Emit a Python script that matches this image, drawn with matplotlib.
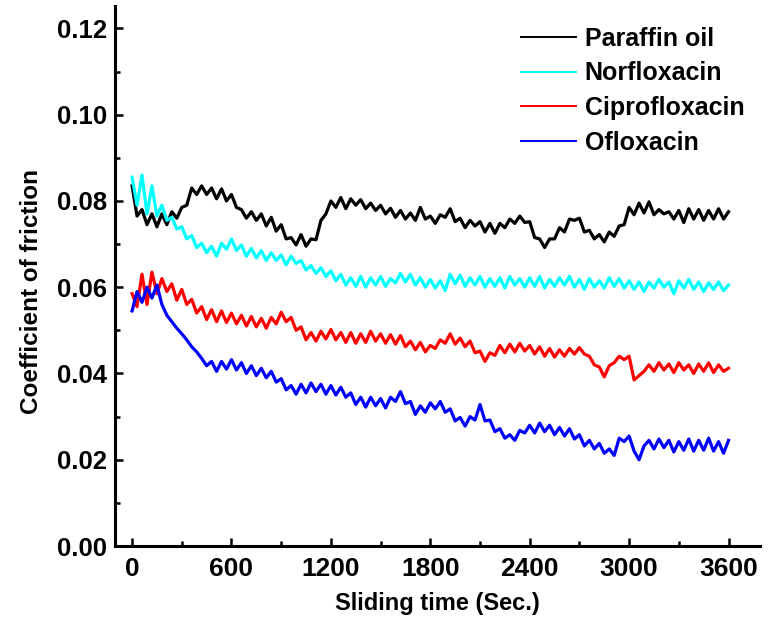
import numpy as np
import matplotlib
matplotlib.use('Agg')
import matplotlib.pyplot as plt
from matplotlib.ticker import MultipleLocator

plt.rcParams['font.family'] = ['Liberation Sans', 'DejaVu Sans']
plt.rcParams['font.weight'] = 'bold'

# sliding time, one reading every 30 s
time = np.arange(0, 3601, 30)

paraffin = [0.0835, 0.0765, 0.0780, 0.0745, 0.0770, 0.0740, 0.0770, 0.0745, 0.0775, 0.0760,
            0.0785, 0.0790, 0.0830, 0.0815, 0.0835, 0.0815, 0.0830, 0.0805, 0.0828, 0.0800,
            0.0815, 0.0785, 0.0780, 0.0760, 0.0775, 0.0755, 0.0770, 0.0742, 0.0762, 0.0730,
            0.0745, 0.0712, 0.0715, 0.0698, 0.0722, 0.0695, 0.0712, 0.0710, 0.0755, 0.0770,
            0.0800, 0.0785, 0.0808, 0.0782, 0.0805, 0.0790, 0.0803, 0.0782, 0.0795, 0.0778,
            0.0790, 0.0770, 0.0783, 0.0762, 0.0778, 0.0758, 0.0772, 0.0755, 0.0785, 0.0758,
            0.0765, 0.0748, 0.0768, 0.0762, 0.0782, 0.0752, 0.0760, 0.0738, 0.0755, 0.0742,
            0.0752, 0.0728, 0.0748, 0.0725, 0.0748, 0.0738, 0.0758, 0.0748, 0.0765, 0.0750,
            0.0752, 0.0715, 0.0712, 0.0692, 0.0712, 0.0712, 0.0738, 0.0728, 0.0758, 0.0755,
            0.0760, 0.0728, 0.0732, 0.0712, 0.0722, 0.0705, 0.0728, 0.0718, 0.0742, 0.0745,
            0.0785, 0.0768, 0.0795, 0.0772, 0.0798, 0.0768, 0.0780, 0.0770, 0.0775, 0.0758,
            0.0778, 0.0750, 0.0782, 0.0758, 0.0780, 0.0755, 0.0778, 0.0758, 0.0782, 0.0758,
            0.0775]

norflox = [0.0855, 0.0790, 0.0860, 0.0770, 0.0835, 0.0765, 0.0790, 0.0755, 0.0762, 0.0735,
           0.0740, 0.0712, 0.0720, 0.0692, 0.0702, 0.0680, 0.0695, 0.0672, 0.0702, 0.0688,
           0.0712, 0.0685, 0.0698, 0.0672, 0.0690, 0.0668, 0.0685, 0.0662, 0.0680, 0.0662,
           0.0675, 0.0652, 0.0672, 0.0655, 0.0662, 0.0640, 0.0650, 0.0632, 0.0645, 0.0625,
           0.0638, 0.0615, 0.0630, 0.0605, 0.0622, 0.0602, 0.0625, 0.0600, 0.0622, 0.0605,
           0.0625, 0.0602, 0.0620, 0.0610, 0.0632, 0.0612, 0.0630, 0.0605, 0.0622, 0.0600,
           0.0618, 0.0598, 0.0615, 0.0592, 0.0630, 0.0608, 0.0628, 0.0602, 0.0622, 0.0605,
           0.0625, 0.0600, 0.0620, 0.0602, 0.0622, 0.0598, 0.0625, 0.0605, 0.0620, 0.0600,
           0.0622, 0.0602, 0.0625, 0.0598, 0.0618, 0.0602, 0.0622, 0.0605, 0.0625, 0.0600,
           0.0618, 0.0595, 0.0620, 0.0600, 0.0615, 0.0598, 0.0622, 0.0602, 0.0620, 0.0598,
           0.0615, 0.0595, 0.0612, 0.0590, 0.0612, 0.0598, 0.0618, 0.0600, 0.0612, 0.0585,
           0.0615, 0.0598, 0.0618, 0.0595, 0.0612, 0.0590, 0.0610, 0.0595, 0.0612, 0.0592,
           0.0605]

ciproflox = [0.0585, 0.0555, 0.0630, 0.0560, 0.0635, 0.0585, 0.0620, 0.0590, 0.0608, 0.0570,
             0.0595, 0.0560, 0.0572, 0.0540, 0.0555, 0.0525, 0.0548, 0.0520, 0.0545, 0.0518,
             0.0540, 0.0515, 0.0535, 0.0510, 0.0532, 0.0508, 0.0528, 0.0505, 0.0530, 0.0515,
             0.0542, 0.0520, 0.0530, 0.0500, 0.0508, 0.0478, 0.0495, 0.0475, 0.0498, 0.0480,
             0.0502, 0.0478, 0.0495, 0.0472, 0.0495, 0.0470, 0.0492, 0.0472, 0.0498, 0.0475,
             0.0492, 0.0470, 0.0490, 0.0468, 0.0488, 0.0462, 0.0475, 0.0455, 0.0472, 0.0450,
             0.0465, 0.0458, 0.0478, 0.0470, 0.0492, 0.0468, 0.0482, 0.0462, 0.0475, 0.0448,
             0.0452, 0.0428, 0.0448, 0.0442, 0.0465, 0.0448, 0.0468, 0.0450, 0.0470, 0.0452,
             0.0465, 0.0445, 0.0462, 0.0440, 0.0458, 0.0438, 0.0455, 0.0440, 0.0458, 0.0445,
             0.0460, 0.0445, 0.0440, 0.0420, 0.0415, 0.0392, 0.0418, 0.0425, 0.0440, 0.0432,
             0.0440, 0.0385, 0.0395, 0.0405, 0.0420, 0.0405, 0.0425, 0.0408, 0.0422, 0.0402,
             0.0425, 0.0408, 0.0420, 0.0400, 0.0422, 0.0405, 0.0425, 0.0402, 0.0420, 0.0405,
             0.0412]

oflox = [0.0545, 0.0590, 0.0565, 0.0600, 0.0575, 0.0605, 0.0560, 0.0535, 0.0520, 0.0505,
         0.0492, 0.0478, 0.0462, 0.0450, 0.0435, 0.0418, 0.0428, 0.0405, 0.0428, 0.0410,
         0.0432, 0.0408, 0.0425, 0.0400, 0.0418, 0.0395, 0.0412, 0.0390, 0.0405, 0.0380,
         0.0388, 0.0362, 0.0372, 0.0352, 0.0375, 0.0355, 0.0378, 0.0358, 0.0375, 0.0352,
         0.0372, 0.0350, 0.0368, 0.0345, 0.0355, 0.0328, 0.0345, 0.0322, 0.0345, 0.0325,
         0.0342, 0.0320, 0.0345, 0.0335, 0.0358, 0.0330, 0.0335, 0.0305, 0.0325, 0.0310,
         0.0332, 0.0318, 0.0335, 0.0310, 0.0318, 0.0290, 0.0298, 0.0278, 0.0300, 0.0292,
         0.0328, 0.0290, 0.0292, 0.0265, 0.0272, 0.0250, 0.0258, 0.0245, 0.0268, 0.0262,
         0.0280, 0.0262, 0.0285, 0.0265, 0.0280, 0.0258, 0.0275, 0.0255, 0.0272, 0.0248,
         0.0258, 0.0232, 0.0245, 0.0225, 0.0238, 0.0215, 0.0225, 0.0210, 0.0250, 0.0242,
         0.0255, 0.0220, 0.0200, 0.0232, 0.0245, 0.0225, 0.0248, 0.0228, 0.0245, 0.0218,
         0.0242, 0.0222, 0.0248, 0.0220, 0.0245, 0.0222, 0.0250, 0.0220, 0.0242, 0.0215,
         0.0245]

labels = ['Paraffin oil', 'Norfloxacin', 'Ciprofloxacin', 'Ofloxacin']
series = [paraffin, norflox, ciproflox, oflox]
cols = ['#000000', '#00FFFF', '#FF0000', '#0000FF']

fig = plt.figure(figsize=(7.72, 6.21), dpi=100)
ax = fig.add_axes([115/772, 75/621, 645/772, 540/621])

for y, lab, c in zip(series, labels, cols):
    ax.plot(time, y, color=c, lw=2.3, label=lab)

ax.set_xlim(-103, 3790)
ax.set_ylim(0, 0.1252)
ax.xaxis.set_major_locator(MultipleLocator(600))
ax.xaxis.set_minor_locator(MultipleLocator(300))
ax.yaxis.set_major_locator(MultipleLocator(0.02))
ax.yaxis.set_minor_locator(MultipleLocator(0.01))
ax.yaxis.set_major_formatter(plt.FuncFormatter(lambda v, p: '%.2f' % v))

ax.spines['top'].set_visible(False)
ax.spines['right'].set_visible(False)
ax.spines['left'].set_linewidth(2.2)
ax.spines['bottom'].set_linewidth(2.2)
ax.tick_params(which='major', direction='in', length=6, width=1.8)
ax.tick_params(which='minor', direction='in', length=3.5, width=1.8)
ax.tick_params(axis='y', labelsize=18.5, pad=6)
ax.tick_params(axis='x', labelsize=19, pad=8)

ax.set_xlabel('Sliding time (Sec.)', fontsize=17, fontweight='bold', labelpad=8)
ax.set_ylabel('Coefficient of friction', fontsize=17.5, fontweight='bold')
ax.yaxis.set_label_coords(-0.112, 0.472)

leg = ax.legend(loc='upper left', bbox_to_anchor=(521/772, 1 - 27/621),
                bbox_transform=fig.transFigure, frameon=False, fontsize=18,
                handlelength=2.2, handletextpad=0.35, labelspacing=0.42,
                borderpad=0, borderaxespad=0)
for t in leg.get_texts():
    t.set_fontweight('bold')
for h in leg.get_lines():
    h.set_linewidth(1.4)

fig.savefig('out.png', dpi=100)
